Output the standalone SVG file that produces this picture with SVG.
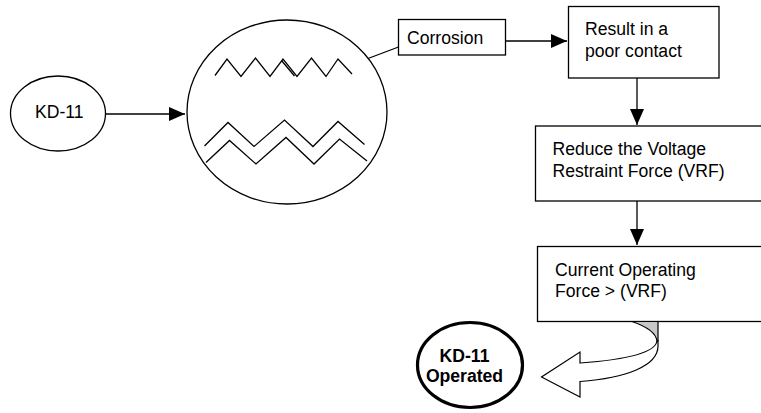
<svg xmlns="http://www.w3.org/2000/svg" width="761" height="413" viewBox="0 0 761 413">
  <style>
    .shape { fill: #ffffff; stroke: #000000; stroke-width: 1.3; }
    .wave { fill: none; stroke: #000000; stroke-width: 1.3; stroke-linejoin: miter; }
    .link { fill: none; stroke: #000000; stroke-width: 1.3; }
    .label { font-family: "Liberation Sans", Arial, sans-serif; font-size: 17.6px; fill: #000000; }
    .bold { font-weight: bold; text-anchor: middle; }
  </style>
  <defs>
    <marker id="head" markerUnits="userSpaceOnUse" markerWidth="16" markerHeight="16" viewBox="0 0 16 16" refX="16" refY="8" orient="auto">
      <path d="M0,1 L16,8 L0,15 Z" fill="#000000"/>
    </marker>
  </defs>
  <rect width="761" height="413" fill="#ffffff"/>

  <g id="connectors">
    <line class="link" x1="106" y1="114" x2="185" y2="114" marker-end="url(#head)"/>
    <line class="link" x1="368" y1="58.5" x2="398.5" y2="47"/>
    <line class="link" x1="506" y1="41" x2="567" y2="41" marker-end="url(#head)"/>
    <line class="link" x1="637" y1="78" x2="637" y2="125" marker-end="url(#head)"/>
    <line class="link" x1="637" y1="201" x2="637" y2="245" marker-end="url(#head)"/>
  </g>

  <g id="kd11">
    <ellipse class="shape" cx="58" cy="113.5" rx="47.5" ry="37.5"/>
    <text class="label" x="59.3" y="118" text-anchor="middle">KD-11</text>
  </g>

  <g id="contact">
    <ellipse class="shape" cx="287" cy="112" rx="100" ry="92"/>
    <polyline class="wave" points="215,75.5 227,59 241,76.5 255.5,58 270,76.5 283,59 297,76.5 311.5,58 326,76.5 338,59 352,74"/>
    <line class="wave" x1="281.5" y1="60.5" x2="294.5" y2="76"/>
    <polyline class="wave" points="204.5,146 228,122.5 254,146.5 284.5,120 313,146.5 338,121.5 364.5,144.5"/>
    <polyline class="wave" points="206,162.5 229.5,140.5 256,164 286,137.5 314,164 339.5,139 367,161"/>
  </g>

  <g id="corrosion">
    <rect class="shape" x="398.5" y="19.5" width="107" height="35.5"/>
    <text class="label" x="407" y="44">Corrosion</text>
  </g>

  <g id="poor-contact">
    <rect class="shape" x="568.5" y="6.5" width="150.5" height="71.5"/>
    <text class="label" x="585" y="35">Result in a</text>
    <text class="label" x="585" y="57">poor contact</text>
  </g>

  <g id="reduce-vrf">
    <rect class="shape" x="535.5" y="126" width="240" height="75"/>
    <text class="label" x="552.5" y="155">Reduce the Voltage</text>
    <text class="label" x="552.5" y="177">Restraint Force (VRF)</text>
  </g>

  <g id="operating-force">
    <rect class="shape" x="537.5" y="246.5" width="240" height="75"/>
    <text class="label" x="555" y="275.5">Current Operating</text>
    <text class="label" x="555" y="297">Force &gt; (VRF)</text>
  </g>

  <g id="curved-arrow">
    <path d="M632,321.5 C648,327 656,333 657,341 L658,341 L658,321.5 Z" fill="#c8c8c8" stroke="#000000" stroke-width="1.2"/>
    <path d="M657,341 C655,354 622,360 580,363 L580,352 L541.5,377 L580,397 L580,381.5 C626,378 658,366 658,346 L658,341 Z" fill="#ffffff" stroke="#000000" stroke-width="1.2" stroke-linejoin="miter"/>
  </g>

  <g id="kd11-operated">
    <ellipse cx="470" cy="365" rx="52.5" ry="42.5" fill="#ffffff" stroke="#000000" stroke-width="3.2"/>
    <text class="label bold" x="464.5" y="362">KD-11</text>
    <text class="label bold" x="464.5" y="382">Operated</text>
  </g>
</svg>
